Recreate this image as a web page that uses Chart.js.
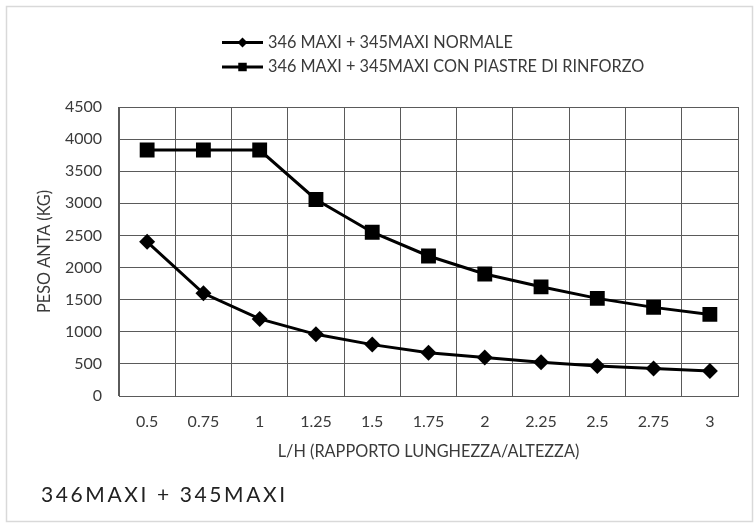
<!DOCTYPE html>
<html>
<head>
<meta charset="utf-8">
<title>Peso anta</title>
<script src="https://cdn.jsdelivr.net/npm/chart.js@4.4.1/dist/chart.umd.min.js"></script>
<style>
  html, body { margin: 0; padding: 0; background: #fff; }
  #wrap { width: 756px; height: 525px; }
</style>
</head>
<body>
<div id="wrap"><canvas id="pesoChart" width="756" height="525"></canvas></div>
<script>
"use strict";

// ð data
const rapportoLH = ['0.5', '0.75', '1', '1.25', '1.5', '1.75', '2', '2.25', '2.5', '2.75', '3'];
const pesoNormale = [2400, 1600, 1200, 960, 800, 675, 600, 525, 467, 430, 390];
const pesoPiastre = [3830, 3830, 3830, 3060, 2550, 2180, 1900, 1700, 1520, 1380, 1270];
const yTicks = [0, 500, 1000, 1500, 2000, 2500, 3000, 3500, 4000, 4500];

const nomeNormale = '346 MAXI + 345MAXI NORMALE';
const nomePiastre = '346 MAXI + 345MAXI CON PIASTRE DI RINFORZO';
const titoloX = 'L/H (RAPPORTO LUNGHEZZA/ALTEZZA)';
const titoloY = 'PESO ANTA (KG)';
const didascalia = '346MAXI + 345MAXI';

const fontName = 'Lato';
const textColor = '#3a3a3a';
const gridColor = '#5a5a5a';

// ð plugins

// light frame round the whole chart (like the excel chart area)
const cornice = {
  id: 'cornice',
  beforeDraw(chart) {
    const ctx = chart.ctx;
    ctx.save();
    ctx.fillStyle = '#fff';
    ctx.fillRect(0, 0, chart.width, chart.height);
    ctx.strokeStyle = '#d9d9d9';
    ctx.lineWidth = 1.5;
    ctx.strokeRect(6.5, 6.5, 746, 515);
    ctx.restore();
  }
};

// legend with line + marker, one item per row
const legendaLinee = {
  id: 'legendaLinee',
  afterDraw(chart) {
    const ctx = chart.ctx;
    chart.data.datasets.forEach((ds, i) => {
      const y = 42.5 + i * 24.5;
      ctx.save();
      ctx.strokeStyle = '#000';
      ctx.lineWidth = 3;
      ctx.beginPath();
      ctx.moveTo(222, y);
      ctx.lineTo(263, y);
      ctx.stroke();
      ctx.fillStyle = '#000';
      Chart.helpers.drawPoint(ctx, {
        pointStyle: ds.pointStyle,
        radius: ds.pointStyle === 'rect' ? 6 : 5,
        rotation: 0,
        borderWidth: 0
      }, 242.5, y);
      ctx.fillStyle = textColor;
      ctx.font = '16.3px ' + fontName;
      ctx.textBaseline = 'middle';
      ctx.textAlign = 'left';
      ctx.fillText(ds.label, 268, y);
      ctx.restore();
    });
  }
};

// caption under the chart
const didascaliaPlugin = {
  id: 'didascalia',
  afterDraw(chart) {
    const ctx = chart.ctx;
    ctx.save();
    ctx.fillStyle = '#222';
    ctx.font = '21px ' + fontName;
    ctx.letterSpacing = '2.6px';
    ctx.textBaseline = 'middle';
    ctx.textAlign = 'left';
    ctx.fillText(didascalia, 41, 495);
    ctx.restore();
  }
};

// ð chart.js
let ctx = document.getElementById('pesoChart');

let pesoChart = new Chart(ctx, {
  type: 'line',
  data: {
    labels: rapportoLH,
    datasets: [
      {
        label: nomeNormale,
        data: pesoNormale,
        borderColor: '#000',
        backgroundColor: '#000',
        borderWidth: 3,
        pointStyle: 'rectRot',
        pointRadius: 8,
        pointBorderWidth: 0,
        tension: 0
      },
      {
        label: nomePiastre,
        data: pesoPiastre,
        borderColor: '#000',
        backgroundColor: '#000',
        borderWidth: 3,
        pointStyle: 'rect',
        pointRadius: 10.5,
        pointBorderWidth: 0,
        tension: 0
      }
    ]
  },
  options: {
    responsive: false,
    animation: false,
    devicePixelRatio: 1,
    layout: {
      padding: { top: 107, right: 18, bottom: 0, left: 0 }
    },
    plugins: {
      legend: { display: false },
      tooltip: { enabled: false }
    },
    scales: {
      x: {
        offset: true,
        grid: { offset: true, color: gridColor, lineWidth: 1, drawTicks: false },
        border: { display: true, color: gridColor, width: 1 },
        ticks: {
          color: textColor,
          font: { family: fontName, size: 16 },
          padding: 16,
          maxRotation: 0,
          autoSkip: false
        },
        title: {
          display: true,
          text: titoloX,
          color: textColor,
          font: { family: fontName, size: 16.3 },
          padding: { top: 0, bottom: 63 }
        },
        afterFit(scale) {
          scale.height = 129;
        }
      },
      y: {
        min: 0,
        max: 4500,
        afterBuildTicks(scale) {
          scale.ticks = yTicks.map(v => ({ value: v }));
        },
        grid: { color: gridColor, lineWidth: 1, drawTicks: false },
        border: { display: true, color: gridColor, width: 1 },
        ticks: {
          color: textColor,
          font: { family: fontName, size: 16 },
          padding: 17,
          callback: v => String(v)
        },
        title: {
          display: true,
          text: titoloY,
          color: textColor,
          font: { family: fontName, size: 16.3 },
          padding: { top: 35, bottom: 0 }
        },
        afterFit(scale) {
          scale.width = 119;
        }
      }
    }
  },
  plugins: [cornice, legendaLinee, didascaliaPlugin]
});
</script>
</body>
</html>
